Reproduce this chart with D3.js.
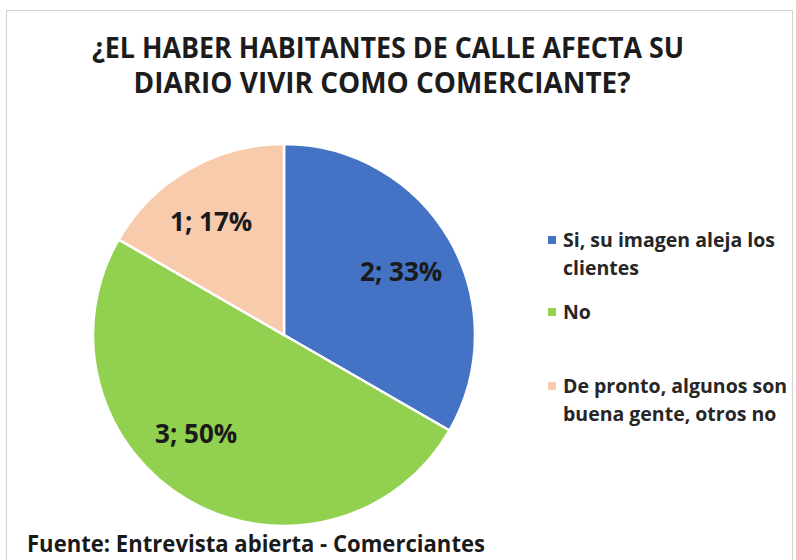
<!DOCTYPE html>
<html><head><meta charset="utf-8">
<script src="https://cdn.jsdelivr.net/npm/d3@7"></script>
<style>body{margin:0;background:#fff;} svg{display:block;}</style>
</head><body>
<svg id="chart" width="796" height="560"></svg>
<script>
const categories = ["Si, su imagen aleja los clientes", "No", "De pronto, algunos son buena gente, otros no"];
const values = [2, 3, 1];
const percents = ["33%", "50%", "17%"];
const colors = ["#4472C4", "#92D050", "#F8CBAD"];
const legendLines = [["Si, su imagen aleja los", "clientes"], ["No"], ["De pronto, algunos son", "buena gente, otros no"]];
const titleLines = ["¿EL HABER HABITANTES DE CALLE AFECTA SU", "DIARIO VIVIR COMO COMERCIANTE?"];
const source = "Fuente: Entrevista abierta - Comerciantes";

const svg = d3.select("#chart");
const font = "'Open Sans', Lato, sans-serif";

svg.append("rect").attr("x", 6.5).attr("y", 10.5).attr("width", 786).attr("height", 560)
  .attr("fill", "#fff").attr("stroke", "#d4d4d4").attr("stroke-width", 1.2);

// title: stretched to the reference widths
const titleWidths = [592, 497];
svg.append("g").selectAll("text").data(titleLines).join("text")
  .attr("x", (d, i) => i === 0 ? 388 : 382).attr("y", (d, i) => 58 + i * 35)
  .attr("text-anchor", "middle").attr("font-family", font).attr("font-weight", "bold")
  .attr("font-size", 28).attr("fill", "#1c1c1c")
  .attr("textLength", (d, i) => titleWidths[i]).attr("lengthAdjust", "spacingAndGlyphs")
  .text(d => d);

const cx = 284, cy = 335, R = 191;
const pie = d3.pie().sort(null).value(d => d)(values);
const arc = d3.arc().innerRadius(0).outerRadius(R);
const labelArc = d3.arc().innerRadius(R * 0.69).outerRadius(R * 0.69);
const labelNudge = [[3, 3], [-22, -16], [-7, 1]];
const g = svg.append("g").attr("transform", `translate(${cx},${cy})`);
g.selectAll("path").data(pie).join("path")
  .attr("d", arc).attr("fill", (d, i) => colors[i])
  .attr("stroke", "#fff").attr("stroke-width", 2.5);
g.selectAll("text").data(pie).join("text")
  .attr("transform", (d, i) => {
    const c = labelArc.centroid(d);
    return `translate(${c[0] + labelNudge[i][0]},${c[1] + labelNudge[i][1]})`;
  })
  .attr("text-anchor", "middle").attr("dy", "0.36em")
  .attr("font-family", font).attr("font-weight", "bold")
  .attr("font-size", 26).attr("fill", "#1a1a1a")
  .text((d, i) => `${values[i]}; ${percents[i]}`);

const legendY = [240, 312, 386];
const lg = svg.append("g");
legendLines.forEach((lines, i) => {
  lg.append("rect").attr("x", 548).attr("y", legendY[i] - 4).attr("width", 8).attr("height", 8).attr("fill", colors[i]);
  lines.forEach((t, j) => {
    lg.append("text").attr("x", 563).attr("y", legendY[i] + 7 + j * 28)
      .attr("font-family", font).attr("font-weight", "bold")
      .attr("font-size", 19.5).attr("fill", "#262626").text(t);
  });
});

svg.append("text").attr("x", 27).attr("y", 552)
  .attr("font-family", font).attr("font-weight", "bold")
  .attr("font-size", 23).attr("fill", "#1a1a1a")
  .attr("textLength", 458).attr("lengthAdjust", "spacingAndGlyphs").text(source);
</script>
</body></html>
